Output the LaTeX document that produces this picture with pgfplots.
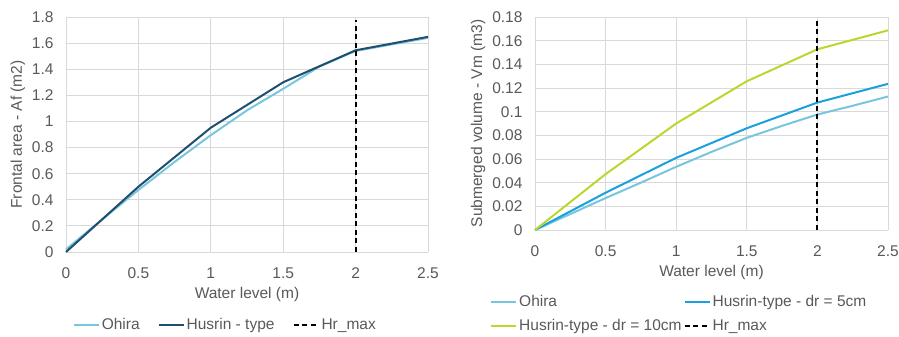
\documentclass[border=0pt]{standalone}
\usepackage{pgfplots}
\pgfplotsset{compat=1.18}
\usepackage{fontspec}
\setmainfont{Liberation Sans}
\definecolor{txt}{HTML}{595959}
\definecolor{grd}{HTML}{D9D9D9}
\definecolor{ohira}{HTML}{78C6DE}
\definecolor{husrin}{HTML}{1F4E6E}
\definecolor{hfive}{HTML}{1AA0DC}
\definecolor{hten}{HTML}{BCD62E}
\pgfplotsset{
  common/.style={
    scale only axis,
    anchor=south west,
    /pgf/number format/assume math mode=true,
    ticklabel style={font=\fontsize{15.5}{18}\selectfont},
    label style={font=\fontsize{15.5}{18}\selectfont},
    legend cell align=left,
    legend image code/.code={\draw[line width=2pt,##1] (0pt,0pt) -- (25pt,0pt);},
    every axis plot/.append style={line width=2pt},
    axis line style={draw=none},
    major tick length=0pt,
    grid=major,
    major grid style={color=grd, line width=0.8pt},
    xmin=0, xmax=2.5,
    xtick={0,0.5,1,1.5,2,2.5},
    xlabel={Water level (m)},
    xlabel style={yshift=-2pt},
    xticklabel style={yshift=-12pt},
    yticklabel style={xshift=-9pt},
    clip=false,
  },
}
\begin{document}
\color{txt}%
\begin{tikzpicture}[x=1pt,y=1pt]
\path[use as bounding box] (0,0) rectangle (899,337);
\begin{axis}[common,
  at={(66pt,85pt)}, width=362pt, height=235pt,
  ymin=0, ymax=1.8, ytick={0,0.2,0.4,0.6,0.8,1,1.2,1.4,1.6,1.8},
  ylabel={Frontal area - Af (m2)},
  legend columns=3,
  legend style={font=\fontsize{15.5}{18}\selectfont, draw=none, fill=none,
    at={(0.44,-0.31)}, anchor=center,
    /tikz/every even column/.style={column sep=16pt}},
]
\addplot[color=ohira] coordinates {
(0,0.02) (0.25,0.25) (0.5,0.475) (0.75,0.69) (1,0.895) (1.25,1.085) (1.5,1.25) (1.75,1.42) (2,1.54) (2.25,1.59) (2.5,1.64)};
\addlegendentry{Ohira}
\addplot[color=husrin] coordinates {
(0,0) (0.5,0.5) (1,0.952) (1.5,1.30) (2,1.545) (2.5,1.648)};
\addlegendentry{Husrin - type}
\addplot[color=black, dash pattern=on 5pt off 3.5pt] coordinates {(2,0) (2,1.78)};
\addlegendentry{Hr\_max}
\end{axis}
\begin{axis}[common,
  at={(535pt,107pt)}, width=353pt, height=213pt,
  ymin=0, ymax=0.18, ytick={0,0.02,0.04,0.06,0.08,0.1,0.12,0.14,0.16,0.18},
  scaled y ticks=false,
  yticklabel style={/pgf/number format/fixed, /pgf/number format/precision=2},
  ylabel={Submerged volume - Vm (m3)},
  legend columns=2,
  legend style={font=\fontsize{15.5}{18}\selectfont, draw=none, fill=none,
    at={(-0.136,-0.272)}, anchor=north west,
    /tikz/every even column/.style={column sep=0pt},
    nodes={inner ysep=5.5pt}},
]
\addplot[color=ohira] coordinates {
(0,0) (0.25,0.0135) (0.5,0.027) (0.75,0.040) (1,0.0534) (1.25,0.066) (1.5,0.0779) (1.75,0.088) (2,0.0976) (2.25,0.105) (2.5,0.1128)};
\addlegendentry{Ohira}
\addplot[color=hfive] coordinates {
(0,0) (0.5,0.0315) (1,0.061) (1.5,0.086) (2,0.1077) (2.5,0.1235)};
\addlegendentry{Husrin-type - dr = 5cm}
\addplot[color=hten] coordinates {
(0,0) (0.5,0.0472) (1,0.090) (1.5,0.1257) (2,0.1527) (2.5,0.1687)};
\addlegendentry{Husrin-type - dr = 10cm}
\addplot[color=black, dash pattern=on 5pt off 3.5pt] coordinates {(2,0) (2,0.177)};
\addlegendentry{Hr\_max}
\end{axis}
\end{tikzpicture}
\end{document}
